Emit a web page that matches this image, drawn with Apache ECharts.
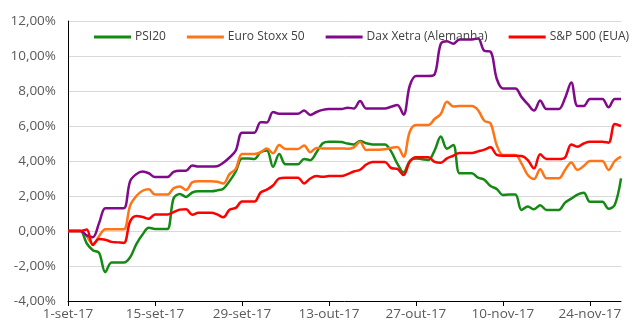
<!DOCTYPE html>
<html>
<head>
<meta charset="utf-8">
<script src="https://cdn.jsdelivr.net/npm/echarts@6/dist/echarts.min.js"></script>
<style>
  html, body { margin: 0; padding: 0; background: #fff; }
  #chart { width: 641px; height: 323px; }
</style>
</head>
<body>
<div id="chart"></div>
<script>
// Daily performance (%) from 1-set-17 to 29-nov-17; weekends repeat Friday's close.
const startYear = 2017, startMonth = 8, startDay = 1, dayCount = 90;
const monthNames = ['jan','fev','mar','abr','mai','jun','jul','ago','set','out','nov','dez'];
const yTicks = { min: -4, max: 12, step: 2 };

const psi20 = [
  0, 0, 0, -0.7, -1.1, -1.25, -2.35, -1.8, -1.8, -1.8,
  -1.5, -0.75, -0.2, 0.18, 0.12, 0.12, 0.12, 1.87, 2.12, 1.95,
  2.2, 2.27, 2.27, 2.27, 2.32, 2.42, 2.85, 3.4, 4.15, 4.15,
  4.12, 4.5, 4.6, 3.67, 4.4, 3.81, 3.81, 3.81, 4.12, 4.05,
  4.5, 5.01, 5.1, 5.1, 5.08, 5.0, 4.95, 5.14, 5.01, 4.95,
  4.95, 4.95, 4.55, 3.85, 3.35, 4.0, 4.15, 4.1, 4.06, 4.6,
  5.4, 4.7, 4.91, 3.3, 3.3, 3.3, 3.05, 2.93, 2.57, 2.4,
  2.06, 2.08, 2.08, 1.2, 1.4, 1.24, 1.47, 1.2, 1.2, 1.2,
  1.62, 1.85, 2.08, 2.18, 1.67, 1.67, 1.67, 1.27, 1.5, 3.01
];
const euroStoxx50 = [
  0, 0, 0, -0.3, -0.75, -0.3, 0.1, 0.1, 0.1, 0.1,
  1.45, 2.0, 2.3, 2.38, 2.08, 2.08, 2.08, 2.44, 2.55, 2.34,
  2.78, 2.85, 2.85, 2.85, 2.82, 2.72, 3.25, 3.55, 4.4, 4.4,
  4.4, 4.5, 4.72, 4.44, 4.91, 4.69, 4.69, 4.69, 4.88, 4.5,
  4.75, 4.72, 4.72, 4.72, 4.72, 4.7, 4.78, 5.1, 4.63, 4.65,
  4.65, 4.67, 4.75, 4.8, 4.25, 5.67, 6.06, 6.06, 6.06, 6.4,
  6.69, 7.39, 7.12, 7.14, 7.14, 7.14, 6.9, 6.3, 6.15, 4.9,
  4.34, 4.34, 4.34, 3.85, 3.2, 2.97, 3.53, 3.01, 3.01, 3.01,
  3.49, 3.92, 3.49, 3.71, 4.0, 4.0, 4.0, 3.49, 4.0, 4.25
];
const daxXetra = [
  0, 0, 0, -0.25, -0.35, 0.45, 1.3, 1.3, 1.3, 1.3,
  2.85, 3.25, 3.4, 3.3, 3.08, 3.08, 3.08, 3.38, 3.45, 3.45,
  3.75, 3.68, 3.68, 3.68, 3.7, 3.9, 4.2, 4.6, 5.62, 5.62,
  5.62, 6.22, 6.2, 6.8, 6.7, 6.7, 6.7, 6.7, 6.88, 6.63,
  6.8, 6.92, 6.97, 6.97, 6.97, 7.05, 7.0, 7.43, 7.0, 7.0,
  7.0, 7.0, 7.1, 7.2, 6.65, 8.3, 8.86, 8.86, 8.86, 8.95,
  10.7, 10.85, 10.7, 10.95, 10.95, 10.95, 11.0, 10.3, 10.25, 8.7,
  8.15, 8.15, 8.15, 7.65, 7.25, 6.88, 7.45, 6.97, 6.97, 6.97,
  7.6, 8.48, 7.14, 7.14, 7.54, 7.54, 7.54, 7.07, 7.54, 7.54
];
const sp500 = [
  0, 0, 0, 0.08, -0.8, -0.45, -0.5, -0.62, -0.65, -0.68,
  0.55, 0.86, 0.8, 0.7, 0.95, 0.95, 0.95, 1.08, 1.22, 1.25,
  0.93, 1.04, 1.04, 1.04, 0.95, 0.78, 1.22, 1.32, 1.68, 1.68,
  1.68, 2.2, 2.36, 2.6, 3.01, 3.05, 3.05, 3.05, 2.72, 3.0,
  3.14, 3.1, 3.14, 3.14, 3.14, 3.25, 3.4, 3.5, 3.8, 3.95,
  3.95, 3.95, 3.6, 3.55, 3.2, 3.95, 4.21, 4.21, 4.21, 3.95,
  3.9, 4.15, 4.3, 4.46, 4.46, 4.46, 4.55, 4.65, 4.78, 4.35,
  4.3, 4.3, 4.3, 4.28, 4.05, 3.58, 4.38, 4.11, 4.11, 4.11,
  4.2, 4.95, 4.82, 5.0, 5.1, 5.1, 5.1, 5.05, 6.12, 6.0
];

const seriesNames = ['PSI20', 'Euro Stoxx 50', 'Dax Xetra (Alemanha)', 'S&P 500 (EUA)'];
const seriesValues = [psi20, euroStoxx50, daxXetra, sp500];
const seriesColors = ['#148a14', '#ff7416', '#800a8a', '#ff0000'];

// Calendar day labels, e.g. "1-set-17"
const dates = [];
for (let i = 0; i < dayCount; i++) {
  const d = new Date(startYear, startMonth, startDay + i);
  dates.push(d.getDate() + '-' + monthNames[d.getMonth()] + '-' + String(d.getFullYear()).slice(2));
}

const chart = echarts.init(document.getElementById('chart'), null, { renderer: 'canvas' });
const fontFamily = "'Open Sans', sans-serif";

chart.setOption({
  animation: false,
  backgroundColor: '#ffffff',
  textStyle: { fontFamily: fontFamily },
  grid: { left: 68, right: 20, top: 21, bottom: 22, containLabel: false },
  legend: {
    data: seriesNames,
    left: 94,
    top: 31,
    width: 600,
    padding: 0,
    icon: 'rect',
    itemWidth: 37,
    itemHeight: 3,
    itemGap: 21,
    textStyle: { fontFamily: fontFamily, fontSize: 12, color: '#404040', padding: [0, 0, 0, -1] }
  },
  xAxis: {
    type: 'category',
    data: dates,
    boundaryGap: false,
    axisLine: { onZero: false, lineStyle: { color: '#000000', width: 1 } },
    axisTick: { show: true, interval: 13, length: 5, lineStyle: { color: '#000000' } },
    axisLabel: { interval: 13, color: '#595959', fontSize: 13.5, margin: 6, fontFamily: fontFamily },
    splitLine: { show: false }
  },
  yAxis: {
    type: 'value',
    min: yTicks.min,
    max: yTicks.max,
    interval: yTicks.step,
    axisLine: { show: true, lineStyle: { color: '#000000', width: 1 } },
    axisTick: { show: false },
    axisLabel: {
      color: '#595959', fontSize: 13.5, margin: 12, fontFamily: fontFamily,
      formatter: v => v.toFixed(2).replace('.', ',') + '%'
    },
    splitLine: { lineStyle: { color: '#d9d9d9', width: 1 } }
  },
  series: seriesNames.map((name, i) => ({
    name: name,
    type: 'line',
    data: seriesValues[i],
    smooth: 0.35,
    showSymbol: false,
    symbol: 'none',
    color: seriesColors[i],
    lineStyle: { width: 2.5, color: seriesColors[i] }
  }))
});
</script>
</body>
</html>
